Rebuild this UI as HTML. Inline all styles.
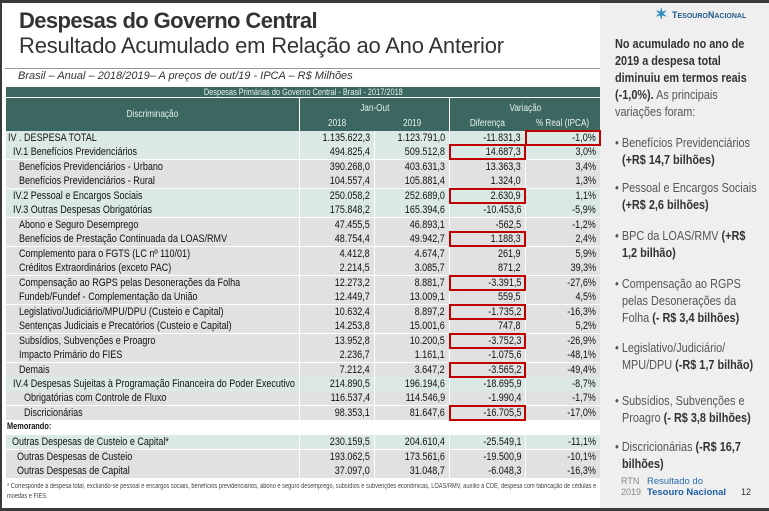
<!DOCTYPE html>
<html><head><meta charset="utf-8"><style>
*{margin:0;padding:0;box-sizing:border-box}
body{width:769px;height:511px;overflow:hidden;background:#3a3a3a;font-family:"Liberation Sans",Arial,sans-serif;position:relative}
#slide{position:absolute;left:2px;top:3px;width:767px;height:505px;background:#fff}
#panel{position:absolute;left:600px;top:3px;width:169px;height:505px;background:#efefef}
.abs{position:absolute;white-space:nowrap}
.c{display:inline-block;transform:scaleX(.82)}
.cl{transform-origin:left center}.cr{transform-origin:right center}.cc{transform-origin:center center}
.cell{position:absolute;height:14px;line-height:14px;font-size:11px;color:#111;overflow:visible;white-space:nowrap}
.hd{position:absolute;background:#3b6760;color:#e6f0ee;font-size:10px;text-align:center;white-space:nowrap}
.red{position:absolute;border:2px solid #c00000}
.pt{font-family:"Liberation Sans",sans-serif;font-size:12.5px;line-height:17px;color:#555;position:absolute;left:615px;width:170px;transform:scaleX(.87);transform-origin:left top}
.pt b{color:#333}
.bl{padding-left:8px;text-indent:-8px}
</style></head><body>
<div id="slide"></div>
<div id="panel"></div>
<div class="abs" style="left:19px;top:8px;font-size:22px;font-weight:bold;color:#333;letter-spacing:-0.6px">Despesas do Governo Central</div>
<div class="abs" style="left:19px;top:33px;font-size:22px;color:#333;letter-spacing:-0.2px">Resultado Acumulado em Relação ao Ano Anterior</div>
<div class="abs" style="left:5px;top:68px;width:595px;height:1px;background:#999"></div>
<div class="abs" style="left:18px;top:70px;font-size:11px;font-style:italic;color:#333">Brasil – Anual – 2018/2019– A preços de out/19 - IPCA – R$ Milhões</div>

<div class="hd" style="left:6px;top:87px;width:594px;height:10px;line-height:10px;font-size:9px"><span class="c cc">Despesas Primárias do Governo Central - Brasil - 2017/2018</span></div>
<div class="hd" style="left:6px;top:98px;width:293px;height:33px;line-height:33px"><span class="c cc">Discriminação</span></div>
<div class="hd" style="left:300px;top:98px;width:149px;height:33px"><div style="margin-top:5px"><span class="c cc">Jan-Out</span></div><div style="position:absolute;top:20px;left:0;width:74px"><span class="c cc">2018</span></div><div style="position:absolute;top:20px;left:75px;width:74px"><span class="c cc">2019</span></div></div>
<div class="hd" style="left:450px;top:98px;width:150px;height:33px"><div style="margin-top:5px"><span class="c cc">Variação</span></div><div style="position:absolute;top:20px;left:0;width:75px"><span class="c cc">Diferença</span></div><div style="position:absolute;top:20px;left:76px;width:74px"><span class="c cc">% Real (IPCA)</span></div></div>

<div id="tbl"></div>

<div class="abs" style="left:7px;top:421px;font-size:9px;font-weight:bold;color:#111"><span class="c cl">Memorando:</span></div>
<div class="abs" style="left:7px;top:482px;font-size:7px;line-height:10px;color:#444;white-space:normal;width:730px;transform:scaleX(.81);transform-origin:left">* Corresponde à despesa total, excluindo-se pessoal e encargos sociais, benefícios previdenciários, abono e seguro desemprego, subsídios e subvenções econômicas, LOAS/RMV, auxílio à CDE, despesa com fabricação de cédulas e moedas e FIES.</div>

<div class="abs" style="left:672px;top:10px;font-size:9px;font-weight:bold;color:#1f5a8a"><span style="color:#2e8bc0;font-size:15px;position:absolute;left:-17px;top:-5px">✶</span>T<span style="font-size:7px">ESOURO</span>N<span style="font-size:7px">ACIONAL</span></div>
<div class="pt" style="top:36px"><b>No acumulado no ano de 2019 a despesa total diminuiu em termos reais (-1,0%).</b> As principais variações foram:</div>
<div class="pt bl" style="top:135px">• Benefícios Previdenciários <b>(+R$ 14,7 bilhões)</b></div>
<div class="pt bl" style="top:180px">• Pessoal e Encargos Sociais <b>(+R$ 2,6 bilhões)</b></div>
<div class="pt bl" style="top:228px">• BPC da LOAS/RMV <b>(+R$ 1,2 bilhão)</b></div>
<div class="pt bl" style="top:276px">• Compensação ao RGPS pelas Desonerações da Folha <b>(- R$ 3,4 bilhões)</b></div>
<div class="pt bl" style="top:340px">• Legislativo/Judiciário/ MPU/DPU <b>(-R$ 1,7 bilhão)</b></div>
<div class="pt bl" style="top:393px">• Subsídios, Subvenções e Proagro <b>(- R$ 3,8 bilhões)</b></div>
<div class="pt bl" style="top:439px">• Discricionárias <b>(-R$ 16,7 bilhões)</b></div>
<div class="abs" style="left:621px;top:476px;font-size:9px;line-height:11px;color:#888">RTN<br>2019</div>
<div class="abs" style="left:647px;top:476px;font-size:9.5px;line-height:11px;color:#2a6db0">Resultado do<br><b style="color:#1f5fa8">Tesouro Nacional</b></div>
<div class="abs" style="left:741px;top:487px;font-size:9px;color:#333">12</div>

<script>
const labels=["IV . DESPESA TOTAL","IV.1  Benefícios Previdenciários","Benefícios Previdenciários - Urbano","Benefícios Previdenciários - Rural","IV.2  Pessoal e Encargos Sociais","IV.3  Outras Despesas Obrigatórias","Abono e Seguro Desemprego","Benefícios de Prestação Continuada da LOAS/RMV","Complemento para o FGTS (LC nº 110/01)","Créditos Extraordinários (exceto PAC)","Compensação ao RGPS pelas Desonerações da Folha","Fundeb/Fundef - Complementação da União","Legislativo/Judiciário/MPU/DPU (Custeio e Capital)","Sentenças Judiciais e Precatórios (Custeio e Capital)","Subsídios, Subvenções e Proagro","Impacto Primário do FIES","Demais","IV.4  Despesas Sujeitas à Programação Financeira do Poder Executivo","Obrigatórias com Controle de Fluxo","Discricionárias","Outras Despesas de Custeio e Capital*","Outras Despesas de Custeio","Outras Despesas de Capital"];
const levels=[0,1,2,2,1,1,2,2,2,2,2,2,2,2,2,2,2,1,3,3,4,5,5];
const v2018=["1.135.622,3","494.825,4","390.268,0","104.557,4","250.058,2","175.848,2","47.455,5","48.754,4","4.412,8","2.214,5","12.273,2","12.449,7","10.632,4","14.253,8","13.952,8","2.236,7","7.212,4","214.890,5","116.537,4","98.353,1","230.159,5","193.062,5","37.097,0"];
const v2019=["1.123.791,0","509.512,8","403.631,3","105.881,4","252.689,0","165.394,6","46.893,1","49.942,7","4.674,7","3.085,7","8.881,7","13.009,1","8.897,2","15.001,6","10.200,5","1.161,1","3.647,2","196.194,6","114.546,9","81.647,6","204.610,4","173.561,6","31.048,7"];
const diffs=["-11.831,3","14.687,3","13.363,3","1.324,0","2.630,9","-10.453,6","-562,5","1.188,3","261,9","871,2","-3.391,5","559,5","-1.735,2","747,8","-3.752,3","-1.075,6","-3.565,2","-18.695,9","-1.990,4","-16.705,5","-25.549,1","-19.500,9","-6.048,3"];
const reals=["-1,0%","3,0%","3,4%","1,3%","1,1%","-5,9%","-1,2%","2,4%","5,9%","39,3%","-27,6%","4,5%","-16,3%","5,2%","-26,9%","-48,1%","-49,4%","-8,7%","-1,7%","-17,0%","-11,1%","-10,1%","-16,3%"];
const boxDiff=[1,4,7,10,12,14,16,19];
const boxReal=[0];
const tbl=document.getElementById('tbl');
const indents=[8,13,19,24,12,17];
const cols=[[6,293],[300,74],[375,74],[450,75],[526,74]];
function rowTop(i){return i<20?131+i*14.47:435+(i-20)*14.5;}
labels.forEach((lab,i)=>{
  const y=rowTop(i);
  const teal=levels[i]<=1||levels[i]==4;
  const vals=[lab,v2018[i],v2019[i],diffs[i],reals[i]];
  cols.forEach((c,j)=>{
    const d=document.createElement('div');
    d.className='cell';
    
    
    d.style.left=c[0]+'px';d.style.width=c[1]+'px';d.style.top=y+'px';
    d.style.background=teal?'#dbe9e6':'#e1e1e1';
    const s=document.createElement('span');
    if(j==0){s.className='c cl';d.style.paddingLeft=(indents[levels[i]]-6)+'px';}
    else{s.className='c cr';d.style.textAlign='right';d.style.paddingRight='4px';}
    s.textContent=vals[j];
    d.appendChild(s);tbl.appendChild(d);
  });
});
function box(i,col){
  const y=rowTop(i);const c=cols[col];
  const b=document.createElement('div');
  b.className='red';
  
  
  b.style.left=(c[0]-1)+'px';b.style.top=(y-1)+'px';b.style.width=(c[1]+2)+'px';b.style.height='16px';
  tbl.appendChild(b);
}
boxDiff.forEach(i=>box(i,3));
boxReal.forEach(i=>box(i,4));
</script>
</body></html>
